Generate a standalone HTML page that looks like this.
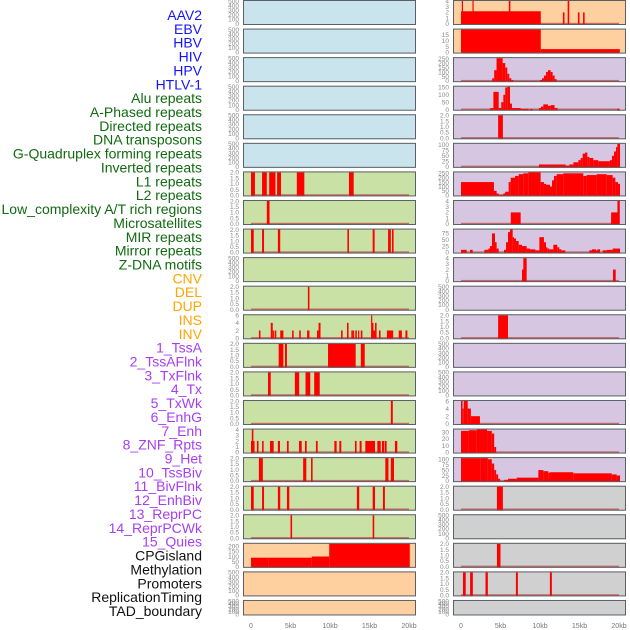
<!DOCTYPE html>
<html><head><meta charset="utf-8">
<style>
html,body{margin:0;padding:0;background:#fff;}
svg{display:block;font-family:"Liberation Sans",sans-serif;}
</style></head>
<body>
<svg id="chart" width="630" height="630" viewBox="0 0 630 630" xmlns="http://www.w3.org/2000/svg"></svg>
<script>
const trackLabels = ["AAV2","EBV","HBV","HIV","HPV","HTLV-1","Alu repeats","A-Phased repeats","Directed repeats","DNA transposons","G-Quadruplex forming repeats","Inverted repeats","L1 repeats","L2 repeats","Low_complexity A/T rich regions","Microsatellites","MIR repeats","Mirror repeats","Z-DNA motifs","CNV","DEL","DUP","INS","INV","1_TssA","2_TssAFlnk","3_TxFlnk","4_Tx","5_TxWk","6_EnhG","7_Enh","8_ZNF_Rpts","9_Het","10_TssBiv","11_BivFlnk","12_EnhBiv","13_ReprPC","14_ReprPCWk","15_Quies","CPGisland","Methylation","Promoters","ReplicationTiming","TAD_boundary"];
const labelGroups = [6,13,5,15,5];
const xTicks = [0,5,10,15,20];
const xTickLabels = ["0","5kb","10kb","15kb","20kb"];
const T2 = ["0.0","0.5","1.0","1.5","2.0"];
const T500 = ["0","100","200","300","400","500"];
const T4 = ["0","1","2","3","4"];
const T6 = ["0","2","4","6"];
// left column: tick labels, domain max, bars [startKb,endKb,value]
const leftTicks = [T500,T500,T500,T500,T500,T500,T2,T2,T2,T500,T2,T6,T2,T2,T2,T4,T2,T2,T2,["0","50","100","150","200"],T500,T500];
const leftMax = [500,500,500,500,500,500,2,2,2,500,2,6,2,2,2,4,2,2,2,225,500,500];
const leftBars = [
 [],[],[],[],[],[],
 [[0,0.5,2],[1.4,2.0,2],[2.3,3.1,2],[3.3,3.8,2],[5.8,6.75,2],[12.4,13.0,2]],
 [[2.0,2.35,2]],
 [[0,0.35,2],[1.4,1.65,2],[3.4,3.7,2],[12.2,12.4,2],[15.4,15.65,2],[17.35,17.7,2],[17.85,18.05,2]],
 [],
 [[7.2,7.4,2]],
 [[1.0,1.2,2],[2.5,2.75,4],[2.75,2.9,2],[3.0,3.2,2],[3.7,4.1,2],[5.2,5.4,2],[6.1,6.3,2],[7.1,7.4,2],[8.35,8.55,2],[8.55,8.8,4],[11.4,11.6,2],[12.15,12.35,4],[12.7,12.9,2],[12.9,13.05,2],[13.2,13.4,2],[13.55,13.7,2],[13.9,14.1,2],[15.2,15.3,6],[15.3,15.5,4],[15.5,15.7,2],[15.7,15.9,4],[16.2,16.4,2],[17.2,18.0,2],[18.7,19.1,2],[19.55,19.8,2]],
 [[3.5,4.1,2],[4.3,4.55,2],[9.75,13.25,2],[13.9,14.4,2]],
 [[2.15,2.5,2],[5.55,6.1,2],[6.9,7.5,2],[8.0,8.7,2]],
 [[17.7,17.95,2]],
 [[0,0.3,2],[0.1,0.3,4],[0.3,0.45,2],[0.75,0.95,2],[1.4,1.6,2],[2.4,2.87,2],[3.4,3.67,2],[4.55,4.77,2],[6.08,6.42,2],[6.83,7.05,2],[8.22,8.44,2],[10.55,10.84,2],[11.18,11.43,2],[13.16,13.37,2],[13.75,14.0,2],[14.47,15.7,2],[15.99,16.42,2],[16.58,16.84,2],[16.92,17.17,2],[18.22,18.52,2]],
 [[1.0,1.5,2],[6.6,7.0,2],[7.6,7.8,2],[17.0,17.4,2],[17.7,18.1,2]],
 [[0,0.35,2],[1.4,1.65,2],[3.4,3.7,2],[4.55,4.85,2],[13.4,13.7,2],[15.4,15.7,2],[16.7,16.95,2]],
 [[5.0,5.2,2],[15.4,15.6,2]],
 [[0,2.2,88],[2.2,7.7,88],[7.7,9.9,100],[9.9,20.1,230]],
 [],[]
];
const TR0 = ["0","50","100","150","200","250"];
const rightTicks = [T4,["0","5","10","15"],TR0,["0","50","100","150"],T2,["0","25","50","75","100"],TR0,T4,["0","25","50","75"],T4,T500,T2,T500,T500,T6,["0","10","20","30"],["0","25","50","75","100"],T2,T500,T2,T2,T500];
const rightMax = [4,19.5,255,155,2,105,260,4,90,4,500,2,500,500,6,34,105,2,500,2,2,500];
const rightBars = [
 [[0,10.1,2.2],[0.1,0.25,4],[1.45,1.6,4],[6.05,6.25,4],[13.5,13.7,4],[12.9,13.1,2],[14.8,15.0,2],[15.45,15.65,2]],
 [[0,10.1,25],[10.1,20.1,2.8]],
 [[3.95,4.2,30],[4.2,4.5,120],[4.5,5.27,255],[5.27,5.6,200],[5.6,5.86,150],[5.86,6.11,80],[6.11,6.37,30],[6.37,6.62,10],[10.0,10.25,10],[10.25,10.5,30],[10.5,10.76,60],[10.76,11.0,100],[11.0,11.35,120],[11.35,11.6,100],[11.6,11.85,60],[11.85,12.1,20]],
 [[3.7,4.1,10],[4.1,4.77,120],[4.77,5.1,10],[5.1,5.36,50],[5.36,5.6,100],[5.6,5.86,150],[5.86,6.2,165],[6.2,6.45,40],[6.45,7.55,10],[7.55,8.56,5],[8.73,9.07,5],[9.87,10.13,10],[10.13,10.42,20],[10.42,11.0,35],[11.0,11.35,25],[11.35,11.85,30],[11.85,12.23,10],[19.75,20.1,5]],
 [[4.7,5.3,2]],
 [[9.87,13.25,10],[13.25,13.7,5],[13.7,14.22,10],[14.22,14.85,20],[14.85,15.15,30],[15.15,15.4,40],[15.4,15.7,60],[15.7,15.99,65],[15.99,16.24,45],[16.24,16.75,40],[16.75,17.38,30],[17.38,18.86,25],[18.86,19.11,30],[19.11,19.37,50],[19.37,19.62,70],[19.62,19.79,90],[19.79,20.13,105]],
 [[0,4.17,150],[4.17,4.51,50],[4.51,4.77,20],[4.77,5.36,5],[5.36,5.6,20],[5.6,6.03,40],[6.03,6.29,150],[6.29,6.84,200],[6.84,7.3,220],[7.3,7.89,240],[7.89,8.52,250],[8.52,10.08,260],[10.08,10.5,150],[10.5,10.76,130],[10.76,11.27,120],[11.27,11.52,100],[11.52,11.77,170],[11.77,12.11,220],[12.11,12.95,240],[12.95,15.48,250],[15.48,15.9,220],[15.9,17.17,230],[17.17,18.44,240],[18.44,19.2,230],[19.2,19.54,200],[19.54,19.87,150],[19.87,20.13,130]],
 [[6.3,7.55,2],[19.0,19.9,2],[19.8,20.1,4]],
 [[0,0.72,10],[1.14,1.48,10],[2.95,3.46,10],[3.46,3.67,15],[3.67,3.92,25],[3.92,4.3,75],[4.3,4.51,40],[4.51,4.77,15],[5.44,5.7,10],[5.7,5.95,40],[5.95,6.2,80],[6.2,6.54,90],[6.54,6.71,60],[6.71,6.96,55],[6.96,7.3,45],[7.3,7.72,30],[7.72,8.31,25],[8.31,8.73,15],[8.73,9.41,12],[9.41,9.92,8],[9.92,10.5,60],[10.5,10.76,40],[10.76,10.93,20],[10.93,11.18,15],[11.18,11.69,12],[11.69,12.19,30],[12.19,12.45,20],[12.45,12.7,12],[12.7,13.2,8],[16.24,16.58,8],[16.58,17.09,12],[17.09,17.26,8],[17.26,17.6,12],[17.93,18.44,8],[18.44,19.2,10],[19.2,20.13,15]],
 [[7.72,7.97,2],[7.89,8.31,4],[19.24,19.58,2]],
 [],
 [[4.7,5.95,2]],
 [],[],
 [[0,0.2,6],[0.2,0.35,4],[0.35,0.85,6],[0.85,1.25,4],[1.25,2.4,2]],
 [[0,1.0,32],[1.0,2.0,33],[2.0,3.3,34],[3.3,3.9,32],[3.9,4.2,28],[4.2,4.45,8]],
 [[0,2.5,110],[2.5,3.4,108],[3.4,3.9,100],[3.9,4.2,80],[4.2,4.45,50],[4.45,4.7,30],[4.7,4.95,10],[5.47,5.95,5],[5.95,7.05,10],[7.05,9.79,15],[9.79,10.42,50],[10.42,11.05,45],[11.05,11.27,38],[11.27,14.22,40],[14.22,19.07,35],[19.07,19.7,30],[19.7,20.13,25]],
 [[4.55,5.3,2]],
 [],
 [[4.55,5.0,2]],
 [[0.25,0.6,2],[1.15,1.5,2],[3.1,3.4,2],[6.95,7.2,2],[11.25,11.5,2]],
 []
];
const leftBg = ["#c9e4ec","#c9e4ec","#c9e4ec","#c9e4ec","#c9e4ec","#c9e4ec","#c9e1a5","#c9e1a5","#c9e1a5","#c9e1a5","#c9e1a5","#c9e1a5","#c9e1a5","#c9e1a5","#c9e1a5","#c9e1a5","#c9e1a5","#c9e1a5","#c9e1a5","#fed09f","#fed09f","#fed09f"];
const rightBg = ["#fed09f","#fed09f","#d6c6e2","#d6c6e2","#d6c6e2","#d6c6e2","#d6c6e2","#d6c6e2","#d6c6e2","#d6c6e2","#d6c6e2","#d6c6e2","#d6c6e2","#d6c6e2","#d6c6e2","#d6c6e2","#d6c6e2","#d0d0d0","#d0d0d0","#d0d0d0","#d0d0d0","#d0d0d0"];

const NS = "http://www.w3.org/2000/svg";
const svg = document.getElementById("chart");
function mk(tag, attrs, parent){
  const e = document.createElementNS(NS, tag);
  for (const k in attrs) e.setAttribute(k, attrs[k]);
  (parent||svg).appendChild(e);
  return e;
}
const groupColors = ["#1414ff","#106a10","#ffa500","#a63ef2","#111111"];
let gi = 0, cnt = 0;
trackLabels.forEach((lab, i) => {
  while (cnt >= labelGroups[gi]) { cnt = 0; gi++; }
  cnt++;
  const t = mk("text", {x:202, y:(15 + i*13.86 + 5).toFixed(1), "text-anchor":"end", "font-size":"14", fill:groupColors[gi]});
  
  
  t.textContent = lab;
});

function rowTop(r){ return r*28.57; }
function rowH(r){ return r===21 ? 15.5 : 25; }

function drawPanel(col, r){
  const px0 = col===0 ? 243 : 453, pw = 173;
  const x0 = col===0 ? 251 : 461;
  const xs = kb => x0 + kb*7.9;
  const top = rowTop(r), h = rowH(r);
  const ticks = col===0 ? leftTicks[r] : rightTicks[r];
  const dmax = col===0 ? leftMax[r] : rightMax[r];
  const bars = col===0 ? leftBars[r] : rightBars[r];
  const bg = col===0 ? leftBg[r] : rightBg[r];
  const g = mk("g", {});
  
  
  const y0 = top + h - 1.2, y1 = top + 1;
  const ys = v => y0 - Math.min(v, dmax)/dmax*(y0-y1);
  mk("rect", {x:px0, y:top, width:pw, height:h, fill:bg}, g);
  const cid = "c"+col+"_"+r;
  const cp = mk("clipPath", {id:cid}, g);
  mk("rect", {x:px0, y:top, width:pw, height:h}, cp);
  const bg2 = mk("g", {"clip-path":"url(#"+cid+")"}, g);
  if (bars.length) {
    const bl = mk("rect", {x:xs(0), y:y0-1, width:xs(20)-xs(0), height:1.6, fill:"#c0504d", opacity:"0.8"}, bg2);
    
    
  }
  bars.forEach(b => {
    const yy = ys(b[2]);
    const rr = mk("rect", {x:xs(b[0]).toFixed(2), y:yy.toFixed(2), width:Math.max(1.2, xs(b[1])-xs(b[0])).toFixed(2), height:(y0+1.2-yy).toFixed(2), fill:"#ff0000"}, bg2);
    
    
  });
  mk("rect", {x:px0+0.5, y:top+0.5, width:pw-1, height:h-1, fill:"none", stroke:"#5a6068", "stroke-width":"1"}, g);
  ticks.forEach(tl => {
    const v = parseFloat(tl);
    const t = mk("text", {x:(px0-4), y:(ys(v)+2.3).toFixed(1), "text-anchor":"end", "font-size":"6.5", fill:"#8a8a8a"}, g);
    
    
    t.textContent = tl;
  });
}
for (let r=0;r<22;r++){ drawPanel(0,r); drawPanel(1,r); }
[251,461].forEach(x0 => {
  xTicks.forEach((k, i) => {
    const t = mk("text", {x:(x0 + k*7.9).toFixed(1), y:628, "text-anchor":"middle", "font-size":"7", fill:"#777"});
    
    
    t.textContent = xTickLabels[i];
  });
});
</script>
</body></html>
